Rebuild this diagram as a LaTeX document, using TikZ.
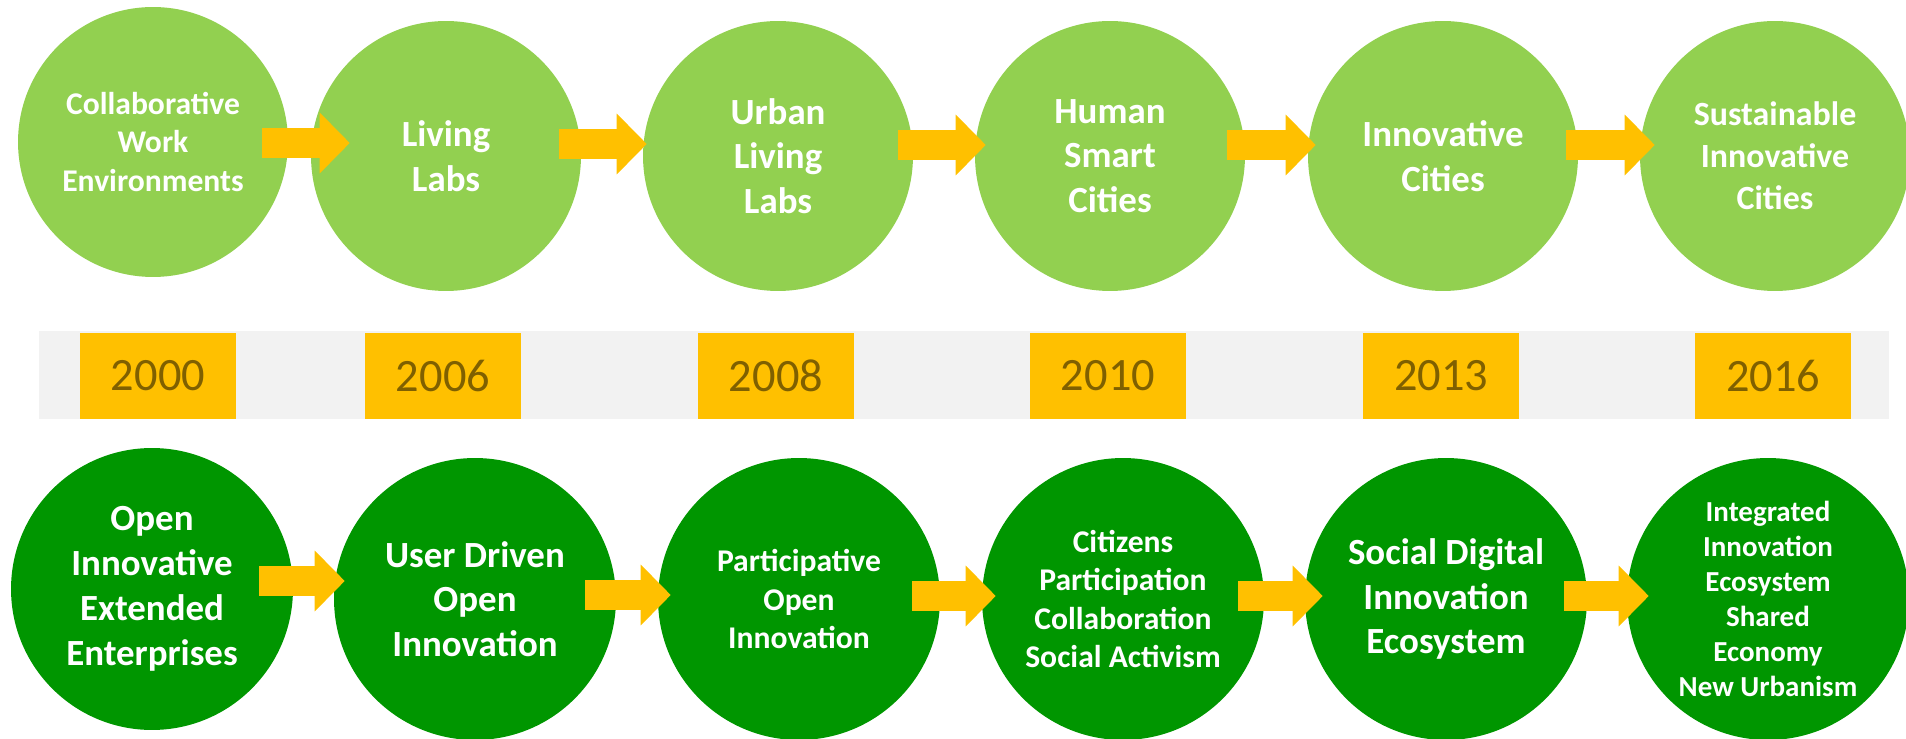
\documentclass[tikz,border=0pt]{standalone}
\usepackage{fontspec}
\setmainfont{Carlito}
\usetikzlibrary{arrows.meta,positioning,calc}
\definecolor{lgreen}{RGB}{146,208,80}
\definecolor{dgreen}{RGB}{0,150,0}
\definecolor{gold}{RGB}{255,192,0}
\definecolor{bandgray}{RGB}{242,242,242}
\definecolor{yeartext}{RGB}{127,96,0}
\tikzstyle{circ} = [circle, inner sep=0pt, text=white, align=center]
\tikzstyle{topc} = [circ, fill=lgreen, minimum size=5.4cm]
\tikzstyle{botc} = [circ, fill=dgreen, minimum size=5.64cm]
\tikzstyle{fbig} = [font=\bfseries\fontsize{21}{25.5}\selectfont]
\tikzstyle{fmid} = [font=\bfseries\fontsize{18}{21.8}\selectfont]
\tikzstyle{fsus} = [font=\bfseries\fontsize{19.3}{24}\selectfont]
\tikzstyle{fsmall} = [font=\bfseries\fontsize{16.5}{20}\selectfont]
\tikzstyle{yearbox} = [rectangle, fill=gold, text=yeartext, minimum width=3.12cm, minimum height=1.72cm, inner sep=0pt, font=\fontsize{26.4}{30}\selectfont]
\tikzstyle{arr} = [draw=gold, line width=0.61cm, -{Triangle[length=0.6cm, width=1.22cm, line width=0pt]}]

\begin{document}
\begin{tikzpicture}[x=0.02cm, y=-0.02cm]
    \useasboundingbox (0,0) rectangle (1906,739);
    \node[topc, fmid] (t1) at (153,142) {Collaborative\\Work\\Environments};
    \node[topc, fbig] (t2) at (446,156) {Living\\Labs};
    \node[topc, fbig] (t3) at (778,156) {Urban\\Living\\Labs};
    \node[topc, fbig] (t4) at (1110,156) {Human\\Smart\\Cities};
    \node[topc, fbig] (t5) at (1443,156) {Innovative\\Cities};
    \node[topc, fsus] (t6) at (1775,156) {Sustainable\\Innovative\\Cities};

    \node[fill=bandgray, minimum width=37cm, minimum height=1.76cm, inner sep=0pt] (band) at (964,375) {};
    \foreach \n/\x/\yr in {y1/158/2000, y2/443/2006, y3/776/2008, y4/1108/2010, y5/1441/2013, y6/1773/2016}
        \node[yearbox] (\n) at (\x,376) {\yr};

    \node[botc, fbig] (b1) at (152,589) {Open\\Innovative\\Extended\\Enterprises};
    \node[botc, fbig] (b2) at (475,599) {User Driven\\Open\\Innovation};
    \node[botc, fmid] (b3) at (799,599) {Participative\\Open\\Innovation};
    \node[botc, fmid] (b4) at (1123,599) {Citizens\\Participation\\Collaboration\\Social Activism};
    \node[botc, fbig] (b5) at (1446,599) {Social Digital\\Innovation\\Ecosystem};
    \node[botc, fsmall] (b6) at (1768,599) {Integrated\\Innovation\\Ecosystem\\Shared\\Economy\\New Urbanism};

    \foreach \a/\b/\s/\e/\y in {t1/t2/-26/39/143, t2/t3/-22/4/144, t3/t4/-15/11/145, t4/t5/-18/8/145, t5/t6/-12/15/145,
                                b1/b2/-34/11/581, b2/b3/-31/13/595, b3/b4/-28/14/596, b4/b5/-26/18/596, b5/b6/-23/22/596}
        \draw[arr] ($(\a.east |- 0,\y)+(\s,0)$) -- ($(\b.west |- 0,\y)+(\e,0)$);
\end{tikzpicture}
\end{document}
